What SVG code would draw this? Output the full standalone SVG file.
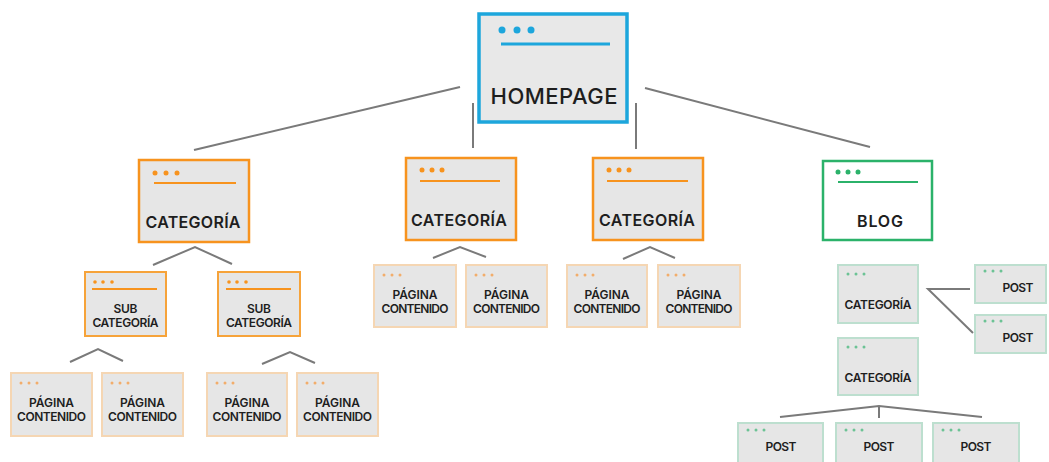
<svg xmlns="http://www.w3.org/2000/svg" width="1049" height="462" viewBox="0 0 1049 462">
<style>
text{font-family:"Inter","Noto Sans","Liberation Sans",sans-serif;font-weight:600;fill:#1e1e1e;text-anchor:middle}
.home{fill:#e8e8e8;stroke:#1da6dc;stroke-width:3.5}
.cat{fill:#e6e6e6;stroke:#f7931e;stroke-width:2.5}
.sub{fill:#e6e6e6;stroke:#f6a33a;stroke-width:2}
.pag{fill:#e6e6e6;stroke:#f5d6b3;stroke-width:2}
.blog{fill:#ffffff;stroke:#2bb26a;stroke-width:2.5}
.bsm{fill:#e6e6e6;stroke:#bddfcf;stroke-width:2}
.od{fill:#f7931e}.pd{fill:#f2ad6b}.gd{fill:#2bb26a}.gs{fill:#6cc395}.bd{fill:#1da6dc}
.ol{stroke:#f7931e;stroke-width:2}
.conn line,.conn polyline{stroke:#7a7a7a;stroke-width:2;fill:none}
.t22{font-size:22px;font-weight:500}.t16{font-size:16px}.t12{font-size:12px}.t11{font-size:12px}
</style>
<rect width="1049" height="462" fill="#ffffff"/>
<g class="conn" id="connectors">
<line x1="460" y1="87" x2="194" y2="150"/>
<line x1="473" y1="103" x2="473" y2="148"/>
<line x1="636" y1="103" x2="636" y2="149"/>
<line x1="645" y1="88" x2="870" y2="147"/>
<polyline points="153,265 195,247 232,264"/>
<polyline points="433,258 460,247 486,257"/>
<polyline points="623,259 650,247 675,258"/>
<polyline points="70,362 98,349 123,361"/>
<polyline points="262,364 290,352 315,363"/>
<polyline points="970,289 928,289 973,333"/>
<polyline points="780,417 879,406 982,417"/>
<line x1="879" y1="406" x2="879" y2="418"/>
</g>
<g id="homepage">
<rect class="home" x="479" y="14" width="148" height="108"/>
<circle class="bd" cx="502" cy="30" r="3.5"/>
<circle class="bd" cx="517" cy="30" r="3.5"/>
<circle class="bd" cx="531" cy="30" r="3.5"/>
<line x1="501" y1="44" x2="610" y2="44" stroke="#1da6dc" stroke-width="3"/>
<text class="t22" x="554" y="104" textLength="127">HOMEPAGE</text>
</g>
<g id="cat1">
<rect class="cat" x="139" y="160" width="110" height="82"/>
<circle class="od" cx="155" cy="173" r="2.5"/><circle class="od" cx="166" cy="173" r="2.5"/><circle class="od" cx="177" cy="173" r="2.5"/>
<line class="ol" x1="154" y1="183" x2="236" y2="183"/>
<text class="t16" x="193" y="228" textLength="95">CATEGORÍA</text>
</g>
<g id="cat2">
<rect class="cat" x="406" y="158" width="110" height="82"/>
<circle class="od" cx="422" cy="170" r="2.5"/><circle class="od" cx="432" cy="170" r="2.5"/><circle class="od" cx="442" cy="170" r="2.5"/>
<line class="ol" x1="420" y1="181" x2="500" y2="181"/>
<text class="t16" x="459" y="226" textLength="96">CATEGORÍA</text>
</g>
<g id="cat3">
<rect class="cat" x="593" y="158" width="110" height="82"/>
<circle class="od" cx="609" cy="170" r="2.5"/><circle class="od" cx="619" cy="170" r="2.5"/><circle class="od" cx="629" cy="170" r="2.5"/>
<line class="ol" x1="607" y1="181" x2="688" y2="181"/>
<text class="t16" x="647" y="226" textLength="96">CATEGORÍA</text>
</g>
<g id="blog">
<rect class="blog" x="823" y="161" width="109" height="79"/>
<circle class="gd" cx="838" cy="172" r="2.5"/><circle class="gd" cx="848" cy="172" r="2.5"/><circle class="gd" cx="858" cy="172" r="2.5"/>
<line x1="838" y1="182" x2="918" y2="182" stroke="#2bb26a" stroke-width="2"/>
<text class="t16" x="880" y="227" textLength="46">BLOG</text>
</g>
<g id="sub1">
<rect class="sub" x="85" y="272" width="81" height="64"/>
<circle class="od" cx="95" cy="282" r="1.8"/><circle class="od" cx="103" cy="282" r="1.8"/><circle class="od" cx="112" cy="282" r="1.8"/>
<line class="ol" x1="92" y1="289" x2="157" y2="289" stroke-width="1.5"/>
<text class="t12" x="125.5" y="313" textLength="24">SUB</text>
<text class="t12" x="125.5" y="327" textLength="66">CATEGORÍA</text>
</g>
<g id="sub2">
<rect class="sub" x="218" y="272" width="82" height="64"/>
<circle class="od" cx="229" cy="282" r="1.8"/><circle class="od" cx="237" cy="282" r="1.8"/><circle class="od" cx="246" cy="282" r="1.8"/>
<line class="ol" x1="226" y1="289" x2="291" y2="289" stroke-width="1.5"/>
<text class="t12" x="259" y="313" textLength="24">SUB</text>
<text class="t12" x="259" y="327" textLength="66">CATEGORÍA</text>
</g>
<g id="pag1">
<rect class="pag" x="11" y="373" width="81" height="63"/>
<circle class="pd" cx="21" cy="383" r="1.5"/><circle class="pd" cx="29" cy="383" r="1.5"/><circle class="pd" cx="37" cy="383" r="1.5"/>
<text class="t11" x="51.5" y="407" textLength="45">PÁGINA</text>
<text class="t11" x="51.5" y="421" textLength="69">CONTENIDO</text>
</g>
<g id="pag2">
<rect class="pag" x="102" y="373" width="81" height="63"/>
<circle class="pd" cx="112" cy="383" r="1.5"/><circle class="pd" cx="120" cy="383" r="1.5"/><circle class="pd" cx="128" cy="383" r="1.5"/>
<text class="t11" x="142.5" y="407" textLength="45">PÁGINA</text>
<text class="t11" x="142.5" y="421" textLength="69">CONTENIDO</text>
</g>
<g id="pag3">
<rect class="pag" x="207" y="373" width="80" height="63"/>
<circle class="pd" cx="217" cy="383" r="1.5"/><circle class="pd" cx="225" cy="383" r="1.5"/><circle class="pd" cx="233" cy="383" r="1.5"/>
<text class="t11" x="247" y="407" textLength="45">PÁGINA</text>
<text class="t11" x="247" y="421" textLength="69">CONTENIDO</text>
</g>
<g id="pag4">
<rect class="pag" x="297" y="373" width="81" height="63"/>
<circle class="pd" cx="307" cy="383" r="1.5"/><circle class="pd" cx="315" cy="383" r="1.5"/><circle class="pd" cx="323" cy="383" r="1.5"/>
<text class="t11" x="337.5" y="407" textLength="45">PÁGINA</text>
<text class="t11" x="337.5" y="421" textLength="69">CONTENIDO</text>
</g>
<g id="pag5">
<rect class="pag" x="374" y="265" width="82" height="62"/>
<circle class="pd" cx="384" cy="275" r="1.5"/><circle class="pd" cx="392" cy="275" r="1.5"/><circle class="pd" cx="400" cy="275" r="1.5"/>
<text class="t11" x="415" y="299" textLength="45">PÁGINA</text>
<text class="t11" x="415" y="313" textLength="67">CONTENIDO</text>
</g>
<g id="pag6">
<rect class="pag" x="466" y="265" width="81" height="62"/>
<circle class="pd" cx="476" cy="275" r="1.5"/><circle class="pd" cx="484" cy="275" r="1.5"/><circle class="pd" cx="492" cy="275" r="1.5"/>
<text class="t11" x="506.5" y="299" textLength="45">PÁGINA</text>
<text class="t11" x="506.5" y="313" textLength="67">CONTENIDO</text>
</g>
<g id="pag7">
<rect class="pag" x="567" y="265" width="80" height="62"/>
<circle class="pd" cx="577" cy="275" r="1.5"/><circle class="pd" cx="585" cy="275" r="1.5"/><circle class="pd" cx="593" cy="275" r="1.5"/>
<text class="t11" x="607" y="299" textLength="45">PÁGINA</text>
<text class="t11" x="607" y="313" textLength="67">CONTENIDO</text>
</g>
<g id="pag8">
<rect class="pag" x="658" y="265" width="82" height="62"/>
<circle class="pd" cx="668" cy="275" r="1.5"/><circle class="pd" cx="676" cy="275" r="1.5"/><circle class="pd" cx="684" cy="275" r="1.5"/>
<text class="t11" x="699" y="299" textLength="45">PÁGINA</text>
<text class="t11" x="699" y="313" textLength="67">CONTENIDO</text>
</g>
<g id="bcat1">
<rect class="bsm" x="838" y="265" width="80" height="58"/>
<circle class="gs" cx="848" cy="274" r="1.5"/><circle class="gs" cx="856" cy="274" r="1.5"/><circle class="gs" cx="864" cy="274" r="1.5"/>
<text class="t11" x="878" y="309" textLength="67">CATEGORÍA</text>
</g>
<g id="bcat2">
<rect class="bsm" x="838" y="338" width="80" height="57"/>
<circle class="gs" cx="848" cy="347" r="1.5"/><circle class="gs" cx="856" cy="347" r="1.5"/><circle class="gs" cx="864" cy="347" r="1.5"/>
<text class="t11" x="878" y="382" textLength="67">CATEGORÍA</text>
</g>
<g id="post1">
<rect class="bsm" x="975" y="265" width="71" height="38"/>
<circle class="gs" cx="985" cy="271" r="1.5"/><circle class="gs" cx="993" cy="271" r="1.5"/><circle class="gs" cx="1001" cy="271" r="1.5"/>
<text class="t11" x="1018" y="292" textLength="31">POST</text>
</g>
<g id="post2">
<rect class="bsm" x="975" y="315" width="71" height="38"/>
<circle class="gs" cx="985" cy="321" r="1.5"/><circle class="gs" cx="993" cy="321" r="1.5"/><circle class="gs" cx="1001" cy="321" r="1.5"/>
<text class="t11" x="1018" y="342" textLength="31">POST</text>
</g>
<g id="post3">
<rect class="bsm" x="738" y="423" width="85" height="45"/>
<circle class="gs" cx="748" cy="430" r="1.5"/><circle class="gs" cx="756" cy="430" r="1.5"/><circle class="gs" cx="764" cy="430" r="1.5"/>
<text class="t11" x="781" y="451" textLength="31">POST</text>
</g>
<g id="post4">
<rect class="bsm" x="836" y="423" width="86" height="45"/>
<circle class="gs" cx="846" cy="430" r="1.5"/><circle class="gs" cx="854" cy="430" r="1.5"/><circle class="gs" cx="862" cy="430" r="1.5"/>
<text class="t11" x="879" y="451" textLength="31">POST</text>
</g>
<g id="post5">
<rect class="bsm" x="933" y="423" width="86" height="45"/>
<circle class="gs" cx="943" cy="430" r="1.5"/><circle class="gs" cx="951" cy="430" r="1.5"/><circle class="gs" cx="959" cy="430" r="1.5"/>
<text class="t11" x="976" y="451" textLength="31">POST</text>
</g>
</svg>
